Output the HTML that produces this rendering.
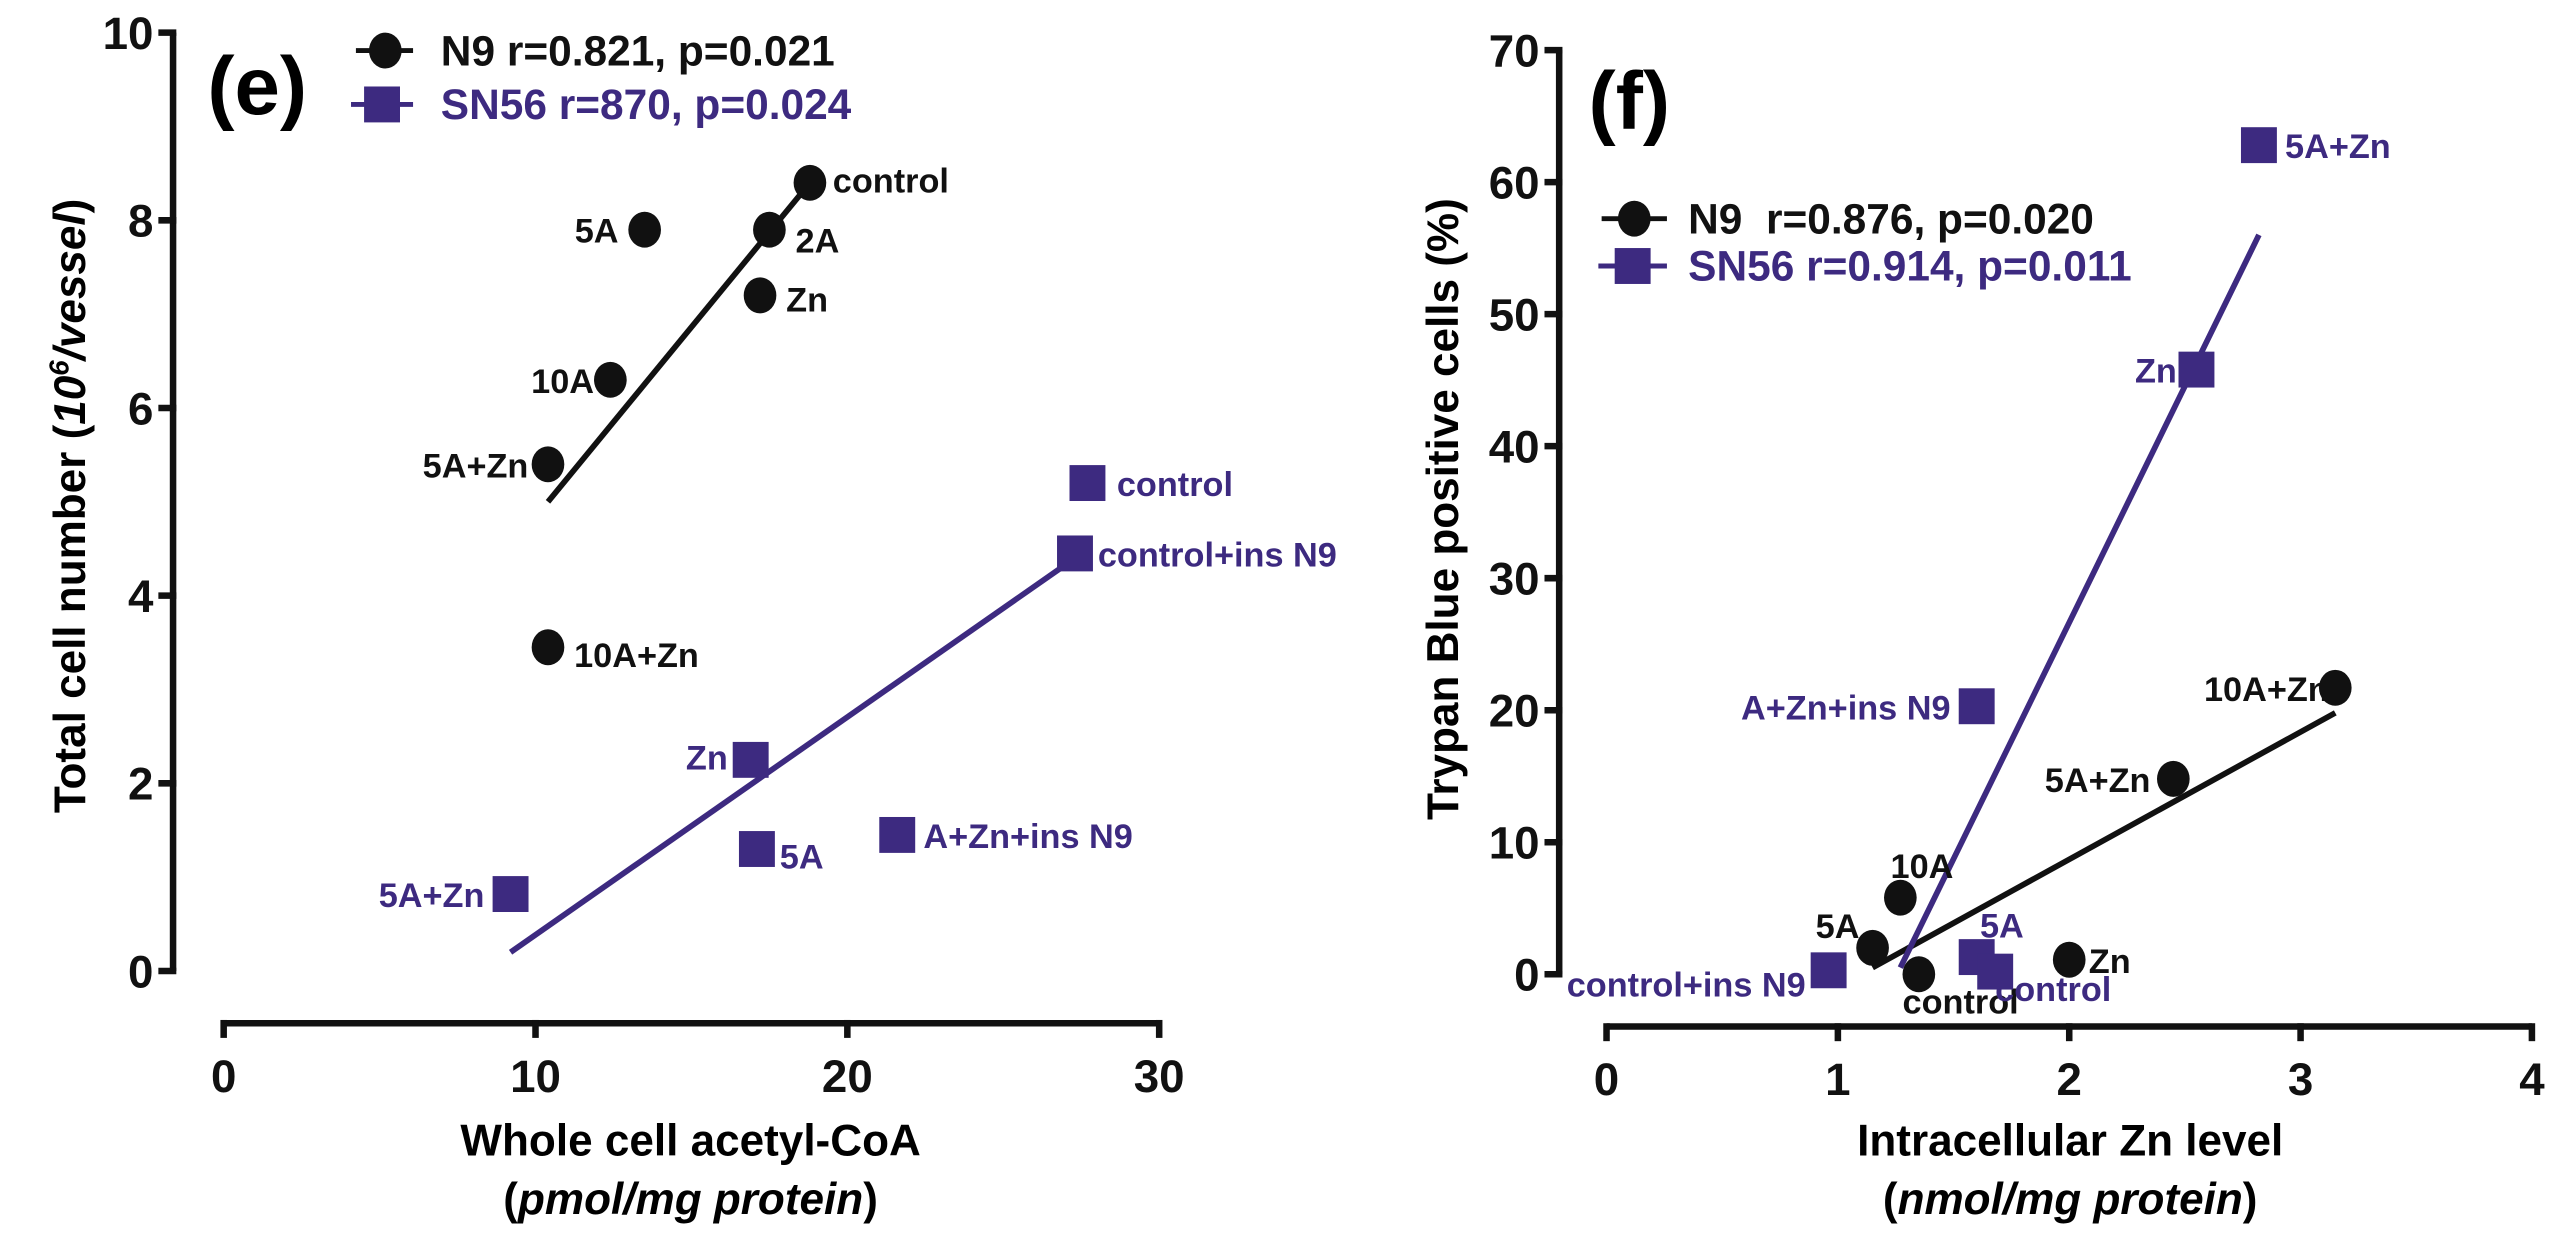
<!DOCTYPE html>
<html><head><meta charset="utf-8"><style>
html,body{margin:0;padding:0;background:#fff}
svg{display:block}
text{font-family:"Liberation Sans Narrow","Liberation Sans",Arial,sans-serif;font-weight:bold}
</style></head><body>
<svg id="chart" width="2560" height="1237" viewBox="0 0 1568 758" preserveAspectRatio="none" xmlns="http://www.w3.org/2000/svg">
<g id="pe"></g>
<g id="pf"></g>
</svg>
<script>
const PURPLE = "#3d2a80";
// Panel e data
const eN9Labels = ["control","5A","2A","Zn","10A","5A+Zn","10A+Zn"];
const eN9X = [18.8,13.5,17.5,17.2,12.4,10.4,10.4];
const eN9Y = [8.4,7.9,7.9,7.2,6.3,5.4,3.45];
const eN9Fit = [[10.4,5.0],[18.8,8.4]];
const eSNLabels = ["control","control+ins N9","Zn","5A","A+Zn+ins N9","5A+Zn"];
const eSNX = [27.7,27.3,16.9,17.1,21.6,9.2];
const eSNY = [5.2,4.45,2.25,1.3,1.45,0.82];
const eSNFit = [[9.2,0.2],[27.3,4.4]];
const eXTicks = [0,10,20,30];
const eYTicks = [0,2,4,6,8,10];
// Panel f data
const fN9Labels = ["10A+Zn","5A+Zn","10A","5A","control","Zn"];
const fN9X = [3.15,2.45,1.27,1.15,1.35,2.0];
const fN9Y = [21.7,14.8,5.8,2.0,0.0,1.1];
const fN9Fit = [[1.15,0.5],[3.15,19.8]];
const fSNLabels = ["5A+Zn","Zn","A+Zn+ins N9","5A","control","control+ins N9"];
const fSNX = [2.82,2.55,1.6,1.6,1.68,0.96];
const fSNY = [62.8,45.8,20.3,1.3,0.2,0.3];
const fSNFit = [[1.27,0.5],[2.82,56]];
const fXTicks = [0,1,2,3,4];
const fYTicks = [0,10,20,30,40,50,60,70];

const NS="http://www.w3.org/2000/svg";
function mk(parent,tag,attrs,txt){const e=document.createElementNS(NS,tag);for(const k in attrs)e.setAttribute(k,attrs[k]);if(txt!==undefined)e.textContent=txt;parent.appendChild(e);return e;}

// label placement (style, not data): [dx, dy, anchor]
const eN9Pos=[[14,6,"start"],[-16,8,"end"],[16,14,"start"],[16,10,"start"],[-10,8,"end"],[-12,8,"end"],[16,12,"start"]];
const eSNPos=[[18,8,"start"],[14,8,"start"],[-14,6,"end"],[14,12,"start"],[16,8,"start"],[-16,8,"end"]];
const fN9Pos=[[-4,8,"end"],[-14,8,"end"],[-6,-12,"start"],[-8,-6,"end"],[-10,24,"start"],[12,8,"start"]];
const fSNPos=[[16,8,"start"],[-12,8,"end"],[-16,8,"end"],[2,-12,"start"],[0,18,"start"],[-14,16,"end"]];

function panel(g,cfg){
  const sx=v=>cfg.x0+(v-cfg.xmin)*cfg.xs, sy=v=>cfg.y0-v*cfg.ys;
  const yTop=sy(cfg.yTicks[cfg.yTicks.length-1]), yBot=sy(0);
  const ya=mk(g,"line",{x1:cfg.yAxisX,y1:yTop,x2:cfg.yAxisX,y2:yBot,stroke:"#111","stroke-width":4});
  
  
  cfg.yTicks.forEach(t=>{
    const l=mk(g,"line",{x1:cfg.yAxisX-9,y1:sy(t),x2:cfg.yAxisX+2,y2:sy(t),stroke:"#111","stroke-width":4});
    
    
    const tx=mk(g,"text",{x:cfg.yAxisX-12,y:sy(t)+10,"text-anchor":"end","font-size":28,fill:"#111"},t);
    
    
  });
  const xa=mk(g,"line",{x1:sx(cfg.xTicks[0]),y1:cfg.xAxisY,x2:sx(cfg.xTicks[cfg.xTicks.length-1]),y2:cfg.xAxisY,stroke:"#111","stroke-width":4});
  
  
  cfg.xTicks.forEach(t=>{
    const l=mk(g,"line",{x1:sx(t),y1:cfg.xAxisY-2,x2:sx(t),y2:cfg.xAxisY+9,stroke:"#111","stroke-width":4});
    
    
    const tx=mk(g,"text",{x:sx(t),y:cfg.xAxisY+42,"text-anchor":"middle","font-size":28,fill:"#111"},t);
    
    
  });
  [[cfg.n9Fit,"#111","n9-fit-line"],[cfg.snFit,PURPLE,"sn56-fit-line"]].forEach(([f,c,n])=>{
    const l=mk(g,"line",{x1:sx(f[0][0]),y1:sy(f[0][1]),x2:sx(f[1][0]),y2:sy(f[1][1]),stroke:c,"stroke-width":3.5});
    
    
  });
  cfg.n9X.forEach((v,i)=>{
    const px=sx(v),py=sy(cfg.n9Y[i]),p=cfg.n9Pos[i];
    const t=mk(g,"text",{x:px+p[0],y:py+p[1],"text-anchor":p[2],"font-size":21,fill:"#111"},cfg.n9L[i]);
    
    
    const c=mk(g,"ellipse",{cx:px,cy:py,rx:10,ry:11,fill:"#111"});
    
    
  });
  cfg.snX.forEach((v,i)=>{
    const px=sx(v),py=sy(cfg.snY[i]),p=cfg.snPos[i];
    const t=mk(g,"text",{x:px+p[0],y:py+p[1],"text-anchor":p[2],"font-size":21,fill:PURPLE},cfg.snL[i]);
    
    
    const r=mk(g,"rect",{x:px-11,y:py-11,width:22,height:22,fill:PURPLE});
    
    
  });
}

const pe=document.getElementById("pe"), pf=document.getElementById("pf");
panel(pe,{x0:137,xmin:0,xs:19.1,y0:595,ys:57.5,yAxisX:106,xAxisY:627,xTicks:eXTicks,yTicks:eYTicks,
  n9X:eN9X,n9Y:eN9Y,n9L:eN9Labels,n9Pos:eN9Pos,n9Fit:eN9Fit,snX:eSNX,snY:eSNY,snL:eSNLabels,snPos:eSNPos,snFit:eSNFit});
panel(pf,{x0:984,xmin:0,xs:141.7,y0:597,ys:8.09,yAxisX:955,xAxisY:629,xTicks:fXTicks,yTicks:fYTicks,
  n9X:fN9X,n9Y:fN9Y,n9L:fN9Labels,n9Pos:fN9Pos,n9Fit:fN9Fit,snX:fSNX,snY:fSNY,snL:fSNLabels,snPos:fSNPos,snFit:fSNFit});
</script>
<script>
(function(){
const svg=document.getElementById("chart");
function T(x,y,s,txt,name,extra){const e=document.createElementNS("http://www.w3.org/2000/svg","text");e.setAttribute("x",x);e.setAttribute("y",y);e.setAttribute("font-size",s);for(const k in (extra||{}))e.setAttribute(k,extra[k]);e.innerHTML=txt;

svg.appendChild(e);return e;}
function L(x1,y1,x2,y2,c,name){const e=document.createElementNS("http://www.w3.org/2000/svg","line");e.setAttribute("x1",x1);e.setAttribute("y1",y1);e.setAttribute("x2",x2);e.setAttribute("y2",y2);e.setAttribute("stroke",c);e.setAttribute("stroke-width",3);

svg.appendChild(e);}
function C(x,y,name){const e=document.createElementNS("http://www.w3.org/2000/svg","ellipse");e.setAttribute("cx",x);e.setAttribute("cy",y);e.setAttribute("rx",10);e.setAttribute("ry",11);e.setAttribute("fill","#111");

svg.appendChild(e);}
function S(x,y,name){const e=document.createElementNS("http://www.w3.org/2000/svg","rect");e.setAttribute("x",x-11);e.setAttribute("y",y-11);e.setAttribute("width",22);e.setAttribute("height",22);e.setAttribute("fill","#3d2a80");

svg.appendChild(e);}
const P="#3d2a80";
T(127,70,50,"(e)","panel-label-e",{"font-family":"Liberation Sans, sans-serif"});
T(973,79,50,"(f)","panel-label-f",{"font-family":"Liberation Sans, sans-serif"});
// legend e
L(218,31,253,31,"#111","legend-n9-line");C(236,31,"legend-n9-marker");
T(270,40,26,"N9 r=0.821, p=0.021","legend-n9-text",{fill:"#111"});
L(215,64,253,64,P,"legend-sn56-line");S(234,64,"legend-sn56-marker");
T(270,73,26,"SN56 r=870, p=0.024","legend-sn56-text",{fill:P});
// legend f
L(981,134,1021,134,"#111","legend-n9-line-f");C(1001,134,"legend-n9-marker-f");
T(1034,143,26,"N9&#160;&#160;r=0.876, p=0.020","legend-n9-text-f",{fill:"#111"});
L(979,163,1021,163,P,"legend-sn56-line-f");S(1000,163,"legend-sn56-marker-f");
T(1034,172,26,"SN56 r=0.914, p=0.011","legend-sn56-text-f",{fill:P});
// axis titles
T(423,708,27,"Whole cell acetyl-CoA","x-axis-title-e",{"text-anchor":"middle","font-family":"Liberation Sans, sans-serif"});
T(423,744,27,"(<tspan font-style='italic'>pmol/mg protein</tspan>)","x-axis-unit-e",{"text-anchor":"middle","font-family":"Liberation Sans, sans-serif"});
T(1268,708,27,"Intracellular Zn level","x-axis-title-f",{"text-anchor":"middle","font-family":"Liberation Sans, sans-serif"});
T(1268,744,27,"(<tspan font-style='italic'>nmol/mg protein</tspan>)","x-axis-unit-f",{"text-anchor":"middle","font-family":"Liberation Sans, sans-serif"});
T(0,0,27,"Total cell number (<tspan font-style='italic'>10<tspan font-size='17' dy='-10'>6</tspan><tspan dy='10'>/vessel</tspan></tspan>)","y-axis-title-e",{"text-anchor":"middle","transform":"translate(52,310) rotate(-90)","font-family":"Liberation Sans, sans-serif"});
T(0,0,27,"Trypan Blue positive cells (%)","y-axis-title-f",{"text-anchor":"middle","transform":"translate(893,312) rotate(-90)","font-family":"Liberation Sans, sans-serif"});
})();
</script>
</body></html>
